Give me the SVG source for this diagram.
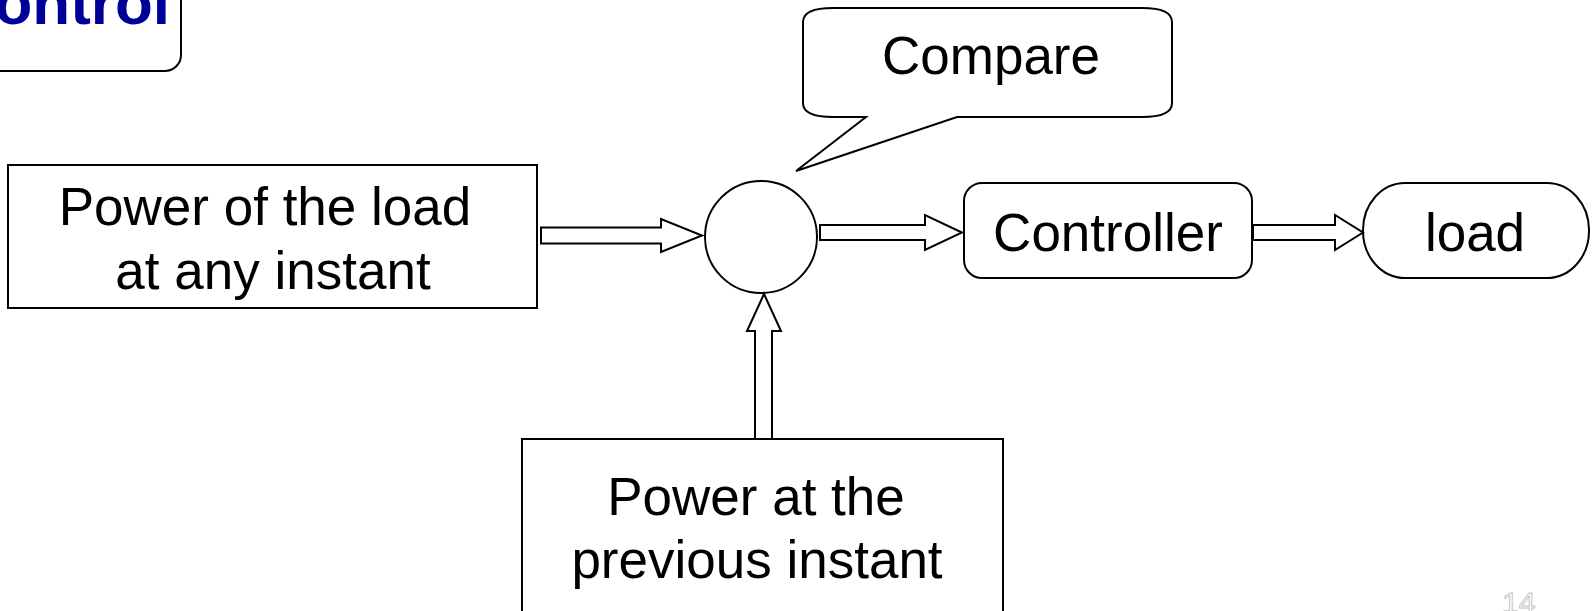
<svg xmlns="http://www.w3.org/2000/svg" width="1594" height="611" viewBox="0 0 1594 611">
<style>
.shape{fill:#fff;stroke:#000;stroke-width:2;}
.lbl{font-family:"Liberation Sans",Arial,sans-serif;font-size:53px;fill:#000;text-anchor:middle;}
.arrow{fill:#fff;stroke:#000;stroke-width:2;stroke-linejoin:miter;}
</style>
<rect width="1594" height="611" fill="#fff"/>
<g id="title">
<rect class="shape" x="-40" y="-40" width="221" height="111" rx="16" ry="16"/>
<text x="170" y="24" font-family="'Liberation Sans',Arial,sans-serif" font-weight="bold" font-size="62" fill="#000099" text-anchor="end">Control</text>
</g>
<g id="callout">
<path class="shape" d="M833,8 L1142,8 Q1172,8 1172,22 L1172,103 Q1172,117 1142,117 L957,117 L796,171 L866,117 L833,117 Q803,117 803,103 L803,22 Q803,8 833,8 Z"/>
<text class="lbl" x="991" y="74">Compare</text>
</g>
<g id="powerLoad">
<rect class="shape" x="8" y="165" width="529" height="143"/>
<text class="lbl" x="265" y="225">Power of the load</text>
<text class="lbl" x="273" y="289">at any instant</text>
</g>
<g id="compareNode">
<circle class="shape" cx="761" cy="237" r="56"/>
</g>
<g id="controller">
<rect class="shape" x="964" y="183" width="288" height="95" rx="18" ry="18"/>
<text class="lbl" x="1108" y="251">Controller</text>
</g>
<g id="load">
<rect class="shape" x="1363" y="183" width="226" height="95" rx="42" ry="47"/>
<text class="lbl" x="1475" y="251">load</text>
</g>
<g id="powerPrev">
<rect class="shape" x="522" y="439" width="481" height="200"/>
<text class="lbl" x="756" y="515">Power at the</text>
<text class="lbl" x="757" y="578">previous instant</text>
</g>
<g id="connectors">
<path class="arrow" d="M541,227.5 L661,227.5 L661,219 L702,235.5 L661,252 L661,243.5 L541,243.5 Z"/>
<path class="arrow" d="M820,225 L925,225 L925,215 L962,232.5 L925,250 L925,240 L820,240 Z"/>
<path class="arrow" d="M1253,225 L1335,225 L1335,215 L1363,232.5 L1335,250 L1335,240 L1253,240 Z"/>
<path class="arrow" d="M755,439 L755,331 L747,331 L764,294 L781,331 L772,331 L772,439 Z"/>
</g>
<text x="1502" y="613" font-family="'Liberation Sans',Arial,sans-serif" font-size="30" fill="#fff" stroke="#c4c4c4" stroke-width="1">14</text>
</svg>
